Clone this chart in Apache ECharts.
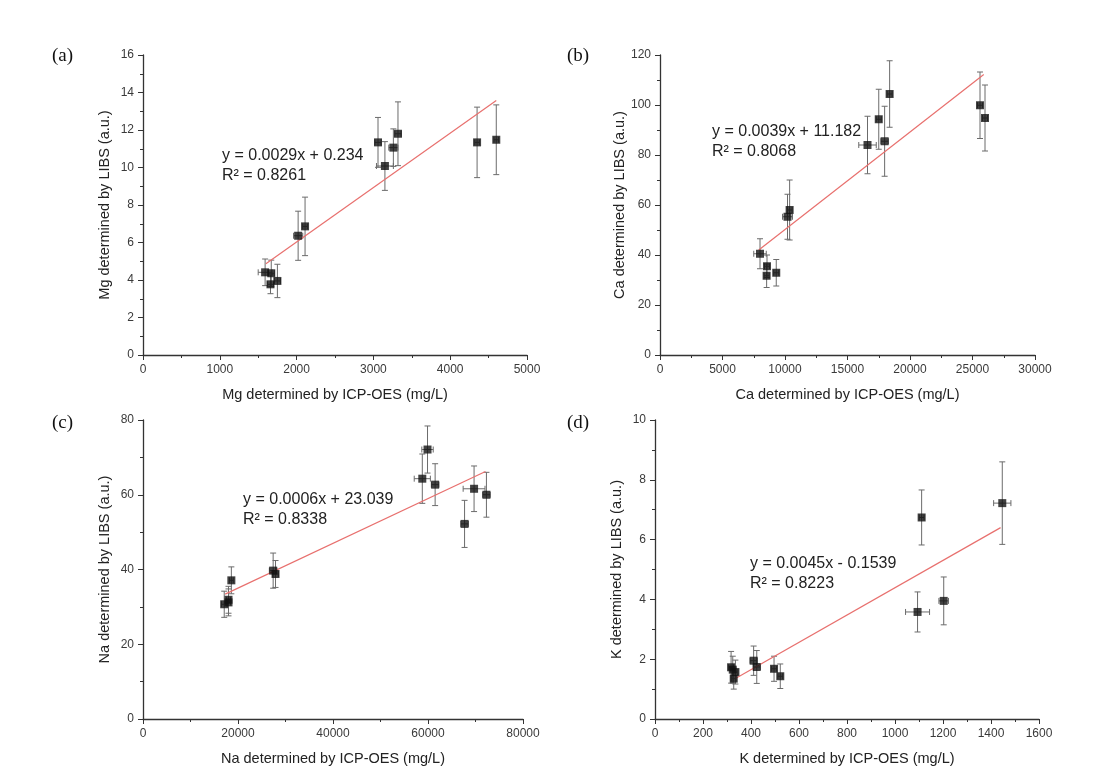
<!DOCTYPE html>
<html>
<head>
<meta charset="utf-8">
<script src="https://cdn.jsdelivr.net/npm/echarts@6/dist/echarts.min.js"></script>
<style>html,body{margin:0;padding:0;background:#fff;}#c{width:1100px;height:776px;}</style>
</head>
<body>
<div id="c"></div>
<script>
// ---- Data ----
// (a) Mg
var mgX    = [1590, 1670, 1660, 1750, 2020, 2110, 3060, 3150, 3260, 3320, 4350, 4600];
var mgY    = [4.41, 4.36, 3.77, 3.95, 6.36, 6.86, 11.34, 10.08, 11.06, 11.8, 11.34, 11.48];
var mgYErr = [0.71, 0.7, 0.5, 0.89, 1.31, 1.56, 1.33, 1.3, 1.0, 1.7, 1.88, 1.86];
var mgXErr = [90, 40, 40, 40, 60, 30, 40, 110, 60, 40, 30, 30];
var mgTrend = [[1600, 4.87], [4600, 13.57]];
// (b) Ca
var caX    = [8000, 8560, 8530, 9300, 10200, 10370, 16600, 17500, 17970, 18370, 25600, 26000];
var caY    = [40.5, 35.5, 31.7, 32.9, 55.3, 58, 84, 94.3, 85.5, 104.4, 99.9, 94.8];
var caYErr = [6, 4.5, 4.7, 5.3, 9, 12, 11.5, 12, 14, 13.3, 13.3, 13.2];
var caXErr = [500, 200, 200, 200, 400, 200, 700, 200, 300, 200, 200, 200];
var caTrend = [[7900, 42.0], [25900, 112.2]];
// (c) Na
var naX    = [17100, 18000, 18000, 18600, 27400, 27900, 58800, 59900, 61500, 67700, 69700, 72300];
var naY    = [30.7, 31.2, 31.9, 37.1, 39.7, 38.8, 64.3, 72.1, 62.7, 52.2, 61.6, 60];
var naYErr = [3.5, 3.6, 3.6, 3.6, 4.7, 3.6, 6.6, 6.3, 5.6, 6.3, 6.1, 6.0];
var naXErr = [600, 400, 400, 400, 800, 600, 1700, 1200, 800, 800, 2300, 800];
var naTrend = [[17300, 33.4], [72100, 66.2]];
// (d) K
var kX    = [317, 324, 335, 328, 411, 424, 496, 522, 1094, 1111, 1203, 1447];
var kY    = [1.73, 1.65, 1.57, 1.35, 1.95, 1.74, 1.68, 1.43, 3.58, 6.74, 3.95, 7.22];
var kYErr = [0.53, 0.45, 0.4, 0.35, 0.49, 0.55, 0.42, 0.41, 0.67, 0.92, 0.8, 1.38];
var kXErr = [10, 10, 10, 10, 15, 15, 10, 10, 50, 10, 20, 36];
var kTrend = [[337, 1.36], [1440, 6.4]];

var panelLabels = ['(a)', '(b)', '(c)', '(d)'];
var xNames = ['Mg determined by ICP-OES (mg/L)', 'Ca determined by ICP-OES (mg/L)', 'Na determined by ICP-OES (mg/L)', 'K determined by ICP-OES (mg/L)'];
var yNames = ['Mg determined by LIBS (a.u.)', 'Ca determined by LIBS (a.u.)', 'Na determined by LIBS (a.u.)', 'K determined by LIBS (a.u.)'];
var eqLines = [
  ['y = 0.0029x + 0.234', 'R\u00b2 = 0.8261'],
  ['y = 0.0039x + 11.182', 'R\u00b2 = 0.8068'],
  ['y = 0.0006x + 23.039', 'R\u00b2 = 0.8338'],
  ['y = 0.0045x - 0.1539', 'R\u00b2 = 0.8223']
];
var xMax = [5000, 30000, 80000, 1600], xInt = [1000, 5000, 20000, 200];
var yMax = [16, 120, 80, 10], yInt = [2, 20, 20, 2];

// ---- Layout ----
var grids = [
  {left: 143, top: 55, width: 384, height: 300},
  {left: 660, top: 55, width: 375, height: 300},
  {left: 143, top: 420, width: 380, height: 299},
  {left: 655, top: 420, width: 384, height: 299}
];
var labelPos = [[52, 58], [567, 58], [52, 425], [567, 425]];
var eqPos = [[222, 155], [712, 131], [243, 499], [750, 563]];

var sets = [
  [mgX, mgY, mgYErr, mgXErr, mgTrend],
  [caX, caY, caYErr, caXErr, caTrend],
  [naX, naY, naYErr, naXErr, naTrend],
  [kX, kY, kYErr, kXErr, kTrend]
];

var axisLine = {lineStyle: {color: '#333', width: 1.3}};
var axisLabelStyle = {color: '#3a3a3a', fontSize: 12, fontFamily: 'Liberation Sans, Arial, sans-serif',
  formatter: function (v) { return String(v); }};
var nameStyle = {color: '#222', fontSize: 14.5, fontFamily: 'Liberation Sans, Arial, sans-serif'};

var xAxes = [], yAxes = [], series = [], graphics = [];
for (var i = 0; i < 4; i++) {
  xAxes.push({
    gridIndex: i, type: 'value', min: 0, max: xMax[i], interval: xInt[i],
    name: xNames[i], nameLocation: 'middle', nameGap: 32, nameTextStyle: nameStyle,
    axisLine: axisLine, axisTick: {length: 5, lineStyle: {color: '#333'}},
    minorTick: {show: true, splitNumber: 2, length: 3, lineStyle: {color: '#333'}},
    axisLabel: Object.assign({margin: 9}, axisLabelStyle), splitLine: {show: false}
  });
  yAxes.push({
    gridIndex: i, type: 'value', min: 0, max: yMax[i], interval: yInt[i],
    name: yNames[i], nameLocation: 'middle', nameGap: 31, nameTextStyle: nameStyle,
    axisLine: axisLine, axisTick: {length: 5, lineStyle: {color: '#333'}},
    minorTick: {show: true, splitNumber: 2, length: 3, lineStyle: {color: '#333'}},
    axisLabel: Object.assign({margin: 9}, axisLabelStyle), splitLine: {show: false}
  });
  var s = sets[i];
  var pts = [], errs = [];
  for (var j = 0; j < s[0].length; j++) {
    pts.push([s[0][j], s[1][j]]);
    errs.push([s[0][j], s[1][j], s[2][j], s[3][j]]);
  }
  series.push({
    type: 'custom', xAxisIndex: i, yAxisIndex: i, data: errs, z: 2, silent: true,
    renderItem: function (params, api) {
      var x = api.value(0), y = api.value(1), ey = api.value(2), ex = api.value(3);
      var top = api.coord([x, y + ey]), bot = api.coord([x, y - ey]);
      var lft = api.coord([x - ex, y]), rgt = api.coord([x + ex, y]);
      var cap = 3;
      var st = {stroke: '#6b6b6b', lineWidth: 1};
      return {type: 'group', children: [
        {type: 'line', shape: {x1: top[0], y1: top[1], x2: bot[0], y2: bot[1]}, style: st},
        {type: 'line', shape: {x1: top[0] - cap, y1: top[1], x2: top[0] + cap, y2: top[1]}, style: st},
        {type: 'line', shape: {x1: bot[0] - cap, y1: bot[1], x2: bot[0] + cap, y2: bot[1]}, style: st},
        {type: 'line', shape: {x1: lft[0], y1: lft[1], x2: rgt[0], y2: rgt[1]}, style: st},
        {type: 'line', shape: {x1: lft[0], y1: lft[1] - cap, x2: lft[0], y2: lft[1] + cap}, style: st},
        {type: 'line', shape: {x1: rgt[0], y1: rgt[1] - cap, x2: rgt[0], y2: rgt[1] + cap}, style: st}
      ]};
    }
  });
  series.push({
    type: 'line', xAxisIndex: i, yAxisIndex: i, data: s[4], symbol: 'none', z: 3,
    lineStyle: {color: '#e8706e', width: 1.2}, silent: true
  });
  series.push({
    type: 'scatter', xAxisIndex: i, yAxisIndex: i, data: pts, z: 4,
    symbol: 'rect', symbolSize: 8, itemStyle: {color: '#111'}, silent: true
  });
  graphics.push({
    type: 'text', left: labelPos[i][0], top: labelPos[i][1] - 11,
    style: {text: panelLabels[i], font: '19px "Liberation Serif", "DejaVu Serif", serif', fill: '#111'}
  });
  graphics.push({
    type: 'text', left: eqPos[i][0], top: eqPos[i][1] - 9,
    style: {text: eqLines[i][0] + '\n' + eqLines[i][1], font: '16px "Liberation Sans", Arial, sans-serif', fill: '#222', lineHeight: 20}
  });
}

var chart = echarts.init(document.getElementById('c'), null, {renderer: 'canvas'});
chart.setOption({
  animation: false,
  backgroundColor: '#fff',
  grid: grids,
  xAxis: xAxes,
  yAxis: yAxes,
  series: series,
  graphic: graphics
});
</script>
</body>
</html>
